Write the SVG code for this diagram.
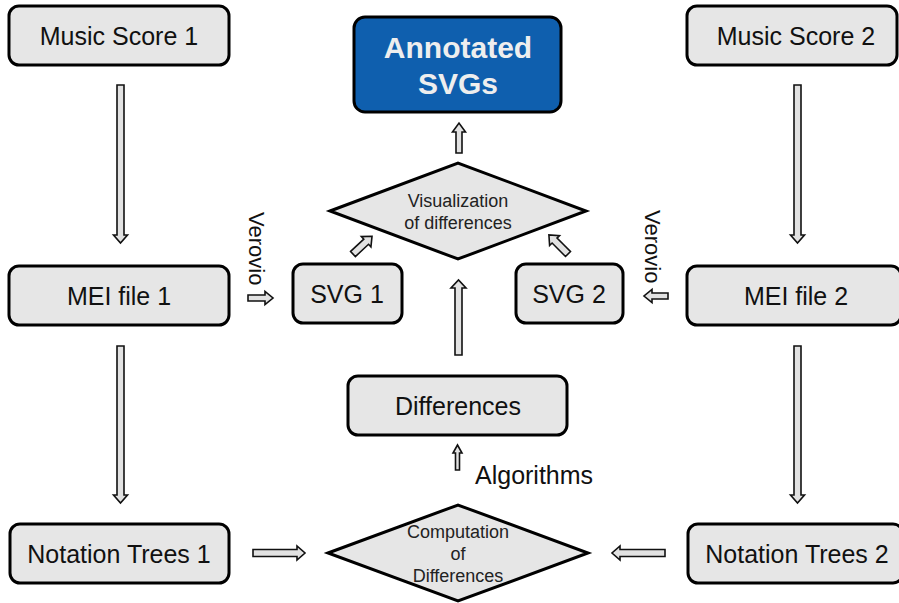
<svg xmlns="http://www.w3.org/2000/svg" width="899" height="603" viewBox="0 0 899 603">
<style>
.box{fill:#e6e6e6;stroke:#000;stroke-width:3}
.dia{fill:#e6e6e6;stroke:#000;stroke-width:3;stroke-linejoin:miter}
.lbl{font-family:"Liberation Sans",Arial,sans-serif;font-size:25px;fill:#111;text-anchor:middle}
.sm{font-family:"Liberation Sans",Arial,sans-serif;font-size:18px;fill:#222;text-anchor:middle}
.ann{font-family:"Liberation Sans",Arial,sans-serif;font-size:30px;font-weight:bold;fill:#eeeeee;text-anchor:middle}
.side{font-family:"Liberation Sans",Arial,sans-serif;fill:#111}
.arr{fill:#e2e2e2;stroke:#111;stroke-width:1.6;stroke-linejoin:miter}
</style>
<rect width="899" height="603" fill="#fff"/>
<g id="connectors">
<polygon class="arr" points="117,85 124,85 124,235 127.5,235 120.5,243 113.5,235 117,235"/>
<polygon class="arr" points="117,346 124,346 124,495 127.5,495 120.5,503 113.5,495 117,495"/>
<polygon class="arr" points="794,85 801,85 801,235 804.5,235 797.5,243 790.5,235 794,235"/>
<polygon class="arr" points="794,346 801,346 801,495 804.5,495 797.5,503 790.5,495 794,495"/>
<polygon class="arr" points="253,549.5 297,549.5 297,546 305,553 297,560 297,556.5 253,556.5"/>
<polygon class="arr" points="665,549.5 620,549.5 620,546 612,553 620,560 620,556.5 665,556.5"/>
<polygon class="arr" points="455.5,470 459.5,470 459.5,453 462,453 457.5,445 453,453 455.5,453"/>
<polygon class="arr" points="455,355 462,355 462,288 466,288 458.5,280 451,288 455,288"/>
<polygon class="arr" points="456,153 462,153 462,132 465.5,132 459,123 452.5,132 456,132"/>
<polygon class="arr" points="248,295 265,295 265,291.5 273,298 265,304.5 265,301 248,301"/>
<polygon class="arr" points="668,293 652,293 652,289.5 644,296 652,302.5 652,299 668,299"/>
<polygon class="arr" transform="translate(353,254) rotate(-43)" points="0,-3.5 18,-3.5 18,-7 26,0 18,7 18,3.5 0,3.5"/>
<polygon class="arr" transform="translate(568,254) rotate(-135)" points="0,-3.5 19,-3.5 19,-7 27,0 19,7 19,3.5 0,3.5"/>
<text class="side" font-size="22" transform="translate(249,212) rotate(90)">Verovio</text>
<text class="side" font-size="22" transform="translate(645,210) rotate(90)">Verovio</text>
<text class="side" font-size="25" x="475" y="484">Algorithms</text>
</g>
<g id="music-score-1"><rect class="box" x="9" y="6" width="220" height="59" rx="10"/><text class="lbl" x="119" y="45">Music Score 1</text></g>
<g id="music-score-2"><rect class="box" x="687" y="6" width="210" height="59" rx="10"/><text class="lbl" x="796" y="45">Music Score 2</text></g>
<g id="annotated-svgs"><rect x="354" y="17" width="207" height="95" rx="11" fill="#0f5fae" stroke="#000" stroke-width="3"/><text class="ann" x="458" y="58">Annotated</text><text class="ann" x="458" y="94">SVGs</text></g>
<g id="visualization"><polygon class="dia" points="330,211 458,163 586,211 458,259"/><text class="sm" x="458" y="207">Visualization</text><text class="sm" x="458" y="229">of differences</text></g>
<g id="mei-file-1"><rect class="box" x="9" y="266" width="220" height="59" rx="10"/><text class="lbl" x="119" y="305">MEI file 1</text></g>
<g id="svg-1"><rect class="box" x="293" y="264" width="109" height="59" rx="10"/><text class="lbl" x="347" y="303">SVG 1</text></g>
<g id="svg-2"><rect class="box" x="516" y="264" width="107" height="59" rx="10"/><text class="lbl" x="569" y="303">SVG 2</text></g>
<g id="mei-file-2"><rect class="box" x="687" y="266" width="214" height="59" rx="10"/><text class="lbl" x="796" y="305">MEI file 2</text></g>
<g id="differences"><rect class="box" x="348" y="376" width="219" height="59" rx="10"/><text class="lbl" x="458" y="415">Differences</text></g>
<g id="notation-trees-1"><rect class="box" x="10" y="524" width="219" height="59" rx="10"/><text class="lbl" x="119" y="563">Notation Trees 1</text></g>
<g id="computation"><polygon class="dia" points="328,553 458,505 588,553 458,601"/><text class="sm" x="458" y="538">Computation</text><text class="sm" x="458" y="560">of</text><text class="sm" x="458" y="582">Differences</text></g>
<g id="notation-trees-2"><rect class="box" x="688" y="524" width="215" height="59" rx="10"/><text class="lbl" x="797" y="563">Notation Trees 2</text></g>
</svg>
